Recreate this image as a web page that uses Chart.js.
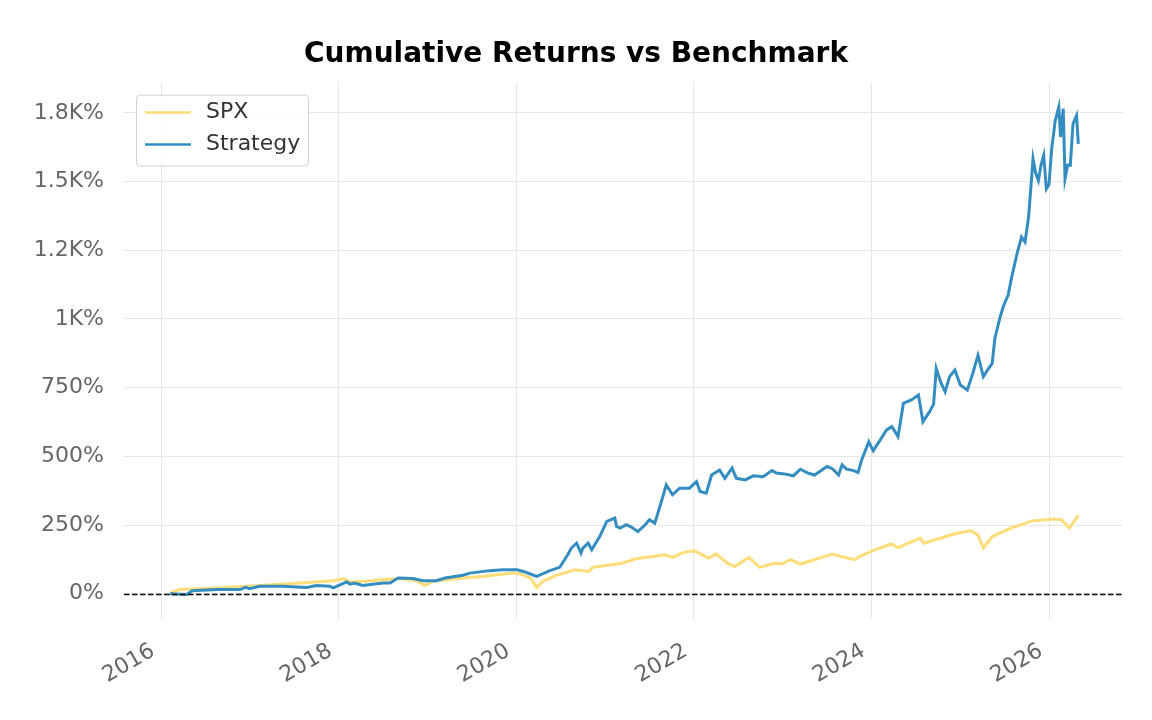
<!DOCTYPE html>
<html>
<head>
<meta charset="utf-8">
<title>Cumulative Returns vs Benchmark</title>
<script src="https://cdn.jsdelivr.net/npm/chart.js@4.4.1/dist/chart.umd.min.js"></script>
<style>
  html, body { margin: 0; padding: 0; background: #ffffff; }
  #wrap { width: 1152px; height: 720px; }
</style>
</head>
<body>
<div id="wrap"><canvas id="chart" width="1152" height="720"></canvas></div>
<script>
// dates as decimal years, values in % cumulative return
const strategyYears = [
  2016.1, 2016.29, 2016.35, 2016.63, 2016.89, 2016.95, 2017.0, 2017.11, 2017.37, 2017.64,
  2017.75, 2017.9, 2017.94, 2018.09, 2018.13, 2018.18, 2018.27, 2018.5, 2018.58, 2018.67,
  2018.84, 2018.95, 2019.1, 2019.2, 2019.4, 2019.48, 2019.7, 2019.85, 2020.01, 2020.1,
  2020.23, 2020.38, 2020.49, 2020.58, 2020.62, 2020.68, 2020.73, 2020.75, 2020.81, 2020.85,
  2020.94, 2021.02, 2021.11, 2021.13, 2021.17, 2021.24, 2021.3, 2021.37, 2021.45, 2021.5,
  2021.56, 2021.63, 2021.69, 2021.76, 2021.84, 2021.95, 2022.03, 2022.07, 2022.14, 2022.2,
  2022.29, 2022.35, 2022.43, 2022.48, 2022.58, 2022.67, 2022.78, 2022.88, 2022.93, 2023.02,
  2023.12, 2023.2, 2023.28, 2023.36, 2023.5, 2023.56, 2023.63, 2023.67, 2023.72, 2023.8,
  2023.85, 2023.89, 2023.97, 2024.02, 2024.1, 2024.17, 2024.23, 2024.3, 2024.36, 2024.45,
  2024.53, 2024.58, 2024.65, 2024.7, 2024.73, 2024.78, 2024.83, 2024.88, 2024.94, 2025.0,
  2025.08, 2025.14, 2025.2, 2025.26, 2025.32, 2025.36, 2025.39, 2025.45, 2025.49, 2025.54,
  2025.58, 2025.64, 2025.69, 2025.73, 2025.77, 2025.82, 2025.85, 2025.88, 2025.91, 2025.94,
  2025.97, 2026.0, 2026.03, 2026.07, 2026.11, 2026.13, 2026.16, 2026.18, 2026.21, 2026.24,
  2026.27, 2026.31, 2026.33
];
const strategyReturns = [
  0, -3, 11, 15, 15, 23, 18, 27, 27, 23,
  30, 27, 21, 43, 35, 39, 30, 39, 39, 57,
  55, 47, 47, 57, 67, 75, 84, 87, 87, 79,
  63, 84, 96, 142, 166, 184, 148, 166, 184, 160,
  208, 263, 275, 245, 239, 251, 242, 226, 250, 269,
  257, 330, 396, 360, 384, 384, 408, 372, 366, 432,
  450, 420, 457, 420, 414, 429, 426, 448, 439, 436,
  429, 453, 440, 432, 463, 455, 432, 469, 453, 448,
  441, 487, 553, 520, 560, 596, 608, 572, 693, 705,
  723, 626, 660, 690, 820, 770, 735, 790, 814, 760,
  741, 800, 868, 790, 820, 838, 929, 1008, 1050, 1087,
  1153, 1238, 1298, 1280, 1371, 1583, 1530, 1504, 1560, 1595,
  1474, 1490, 1619, 1722, 1771, 1662, 1765, 1510, 1560, 1559,
  1710, 1740, 1637
];

const spxYears = [
  2016.1, 2016.21, 2016.63, 2017.11, 2017.57, 2017.94, 2018.05, 2018.13, 2018.3, 2018.5,
  2018.69, 2018.88, 2018.97, 2019.06, 2019.4, 2019.63, 2019.96, 2020.04, 2020.16, 2020.23,
  2020.3, 2020.45, 2020.66, 2020.82, 2020.86, 2021.19, 2021.35, 2021.68, 2021.76, 2021.89,
  2022.01, 2022.09, 2022.17, 2022.25, 2022.38, 2022.46, 2022.62, 2022.74, 2022.91, 2022.99,
  2023.09, 2023.2, 2023.32, 2023.56, 2023.65, 2023.81, 2023.89, 2024.01, 2024.22, 2024.3,
  2024.55, 2024.59, 2024.96, 2025.12, 2025.2, 2025.26, 2025.36, 2025.57, 2025.81, 2026.06,
  2026.14, 2026.23, 2026.33
];
const spxReturns = [
  3, 15, 21, 30, 39, 47, 55, 43, 45, 51,
  55, 47, 30, 45, 57, 63, 75, 72, 57, 23,
  45, 67, 87, 81, 96, 111, 127, 142, 132, 151,
  156, 142, 130, 144, 111, 99, 132, 96, 111, 108,
  124, 108, 120, 144, 136, 124, 139, 156, 181, 168,
  202, 184, 220, 229, 214, 166, 208, 239, 265, 272,
  269, 239, 285
];

const yearTicks = [2016, 2018, 2020, 2022, 2024, 2026];
const pctTicks = [0, 250, 500, 750, 1000, 1250, 1500, 1750];
const pctLabels = ['0%', '250%', '500%', '750%', '1K%', '1.2K%', '1.5K%', '1.8K%'];

const FONT = "'DejaVu Sans', sans-serif";
const spxColor = '#fedd78';
const strategyColor = '#348dc1';

const toPoints = (xs, ys) => xs.map((x, i) => ({ x, y: ys[i] }));

// dashed zero line across the plot
const zeroLine = {
  id: 'zeroLine',
  afterDatasetsDraw(chart) {
    const { ctx, chartArea, scales } = chart;
    const y = Math.round(scales.y.getPixelForValue(0)) + 0.5;
    ctx.save();
    ctx.strokeStyle = '#000000';
    ctx.lineWidth = 1.6;
    ctx.setLineDash([5.5, 2.5]);
    ctx.beginPath();
    ctx.moveTo(chartArea.left, y);
    ctx.lineTo(chartArea.right, y);
    ctx.stroke();
    ctx.restore();
  }
};

// legend box drawn inside the plot, upper left
const innerLegend = {
  id: 'innerLegend',
  afterDraw(chart) {
    const { ctx, chartArea } = chart;
    const items = [
      { label: 'SPX', color: spxColor },
      { label: 'Strategy', color: strategyColor }
    ];
    const x0 = chartArea.left + 12;
    const y0 = chartArea.top + 12;
    const w = 172, h = 71, r = 4;
    ctx.save();
    ctx.fillStyle = 'rgba(255,255,255,0.85)';
    ctx.strokeStyle = '#d0d0d0';
    ctx.lineWidth = 1;
    ctx.beginPath();
    ctx.roundRect(x0 + 0.5, y0 + 0.5, w, h, r);
    ctx.fill();
    ctx.stroke();
    ctx.font = '22px ' + FONT;
    ctx.textBaseline = 'middle';
    items.forEach((it, i) => {
      const cy = y0 + 18 + i * 32;
      ctx.strokeStyle = it.color;
      ctx.lineWidth = 2.5;
      ctx.beginPath();
      ctx.moveTo(x0 + 9, cy);
      ctx.lineTo(x0 + 55, cy);
      ctx.stroke();
      ctx.fillStyle = '#333333';
      ctx.fillText(it.label, x0 + 70, cy);
    });
    ctx.restore();
  }
};

new Chart(document.getElementById('chart'), {
  type: 'line',
  data: {
    datasets: [
      {
        label: 'SPX',
        data: toPoints(spxYears, spxReturns),
        borderColor: spxColor,
        borderWidth: 3,
        pointRadius: 0,
        tension: 0,
        order: 1
      },
      {
        label: 'Strategy',
        data: toPoints(strategyYears, strategyReturns),
        borderColor: strategyColor,
        borderWidth: 3,
        pointRadius: 0,
        tension: 0,
        order: 0
      }
    ]
  },
  options: {
    responsive: false,
    animation: false,
    devicePixelRatio: 1,
    layout: { padding: 0 },
    plugins: {
      legend: { display: false },
      tooltip: { enabled: false },
      title: {
        display: true,
        text: 'Cumulative Returns vs Benchmark',
        color: '#000000',
        font: { family: FONT, size: 28, weight: 'bold' },
        padding: { top: 38, bottom: 11 }
      }
    },
    scales: {
      x: {
        type: 'linear',
        min: 2015.583,
        max: 2026.833,
        border: { display: false },
        grid: { color: '#e6e6e6', lineWidth: 1, drawTicks: false },
        afterBuildTicks: (scale) => { scale.ticks = yearTicks.map(v => ({ value: v })); },
        afterFit: (scale) => { scale.height = 101; },
        ticks: {
          minRotation: 30,
          maxRotation: 30,
          padding: 19,
          labelOffset: -8,
          color: '#666666',
          font: { family: FONT, size: 22 },
          callback: (v) => String(v)
        }
      },
      y: {
        type: 'linear',
        min: -92,
        max: 1860,
        border: { display: false },
        grid: { color: '#e6e6e6', lineWidth: 1, drawTicks: false },
        afterBuildTicks: (scale) => { scale.ticks = pctTicks.map(v => ({ value: v })); },
        afterFit: (scale) => { scale.width = 124; },
        ticks: {
          padding: 20,
          color: '#666666',
          font: { family: FONT, size: 22 },
          callback: (v) => pctLabels[pctTicks.indexOf(v)]
        }
      },
      // empty right-hand margin so the title stays centred on the page
      yRight: {
        type: 'linear',
        position: 'right',
        display: true,
        grid: { display: false },
        border: { display: false },
        ticks: { display: false },
        afterFit: (scale) => { scale.width = 29; }
      }
    }
  },
  plugins: [zeroLine, innerLegend]
});
</script>
</body>
</html>
